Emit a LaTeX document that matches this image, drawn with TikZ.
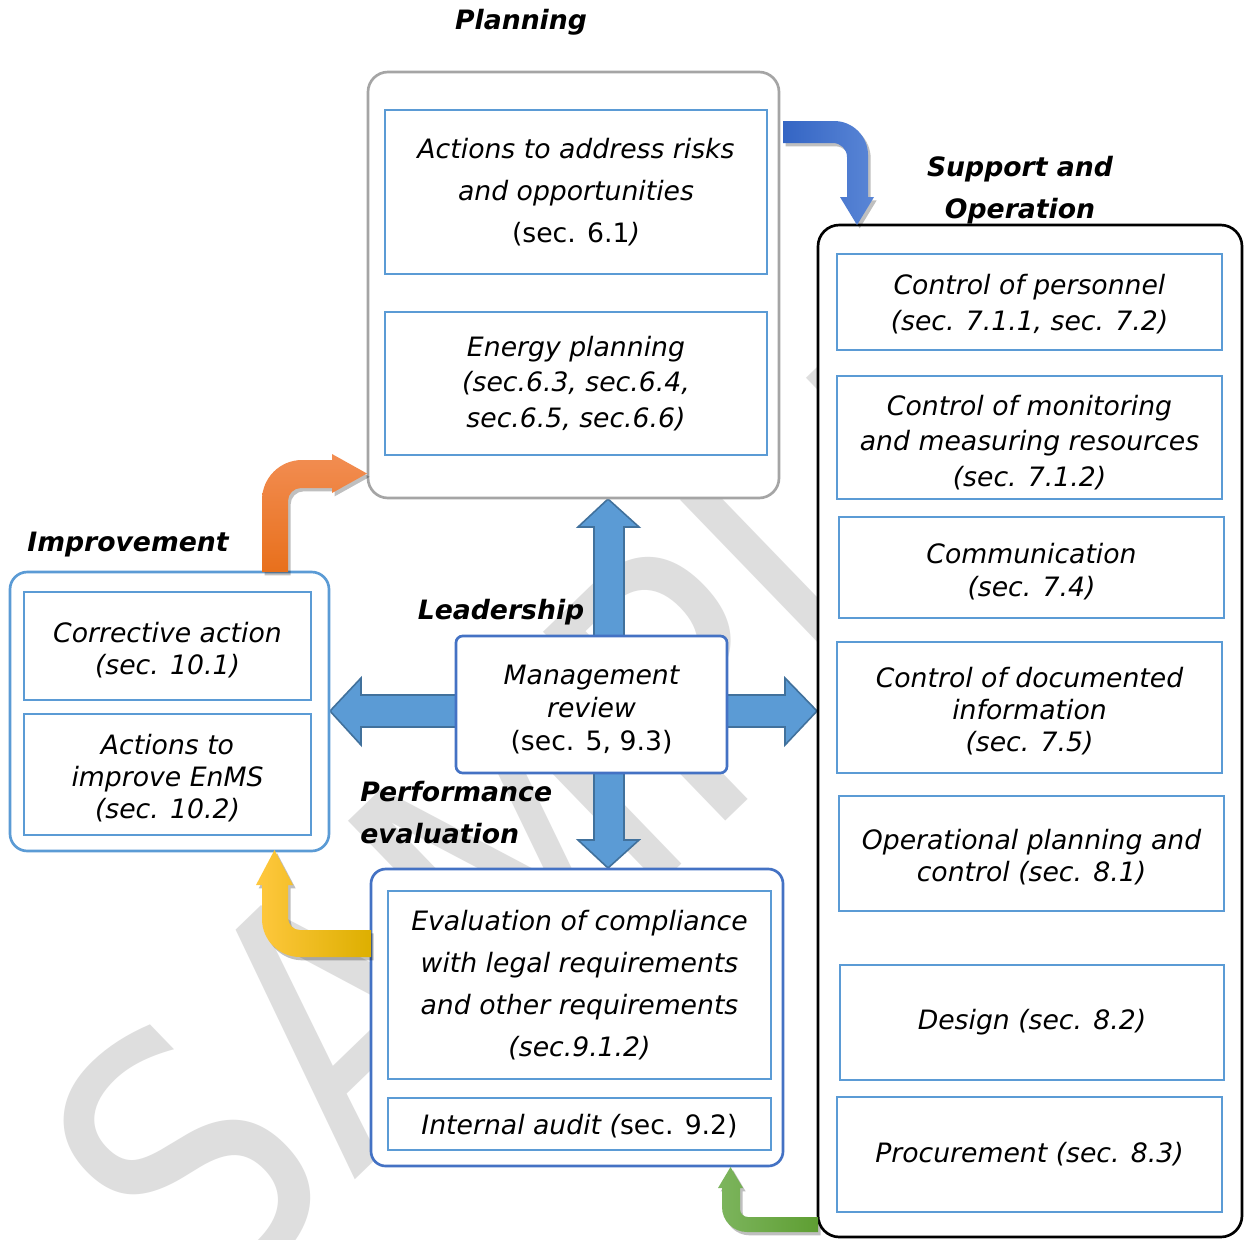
\documentclass[tikz,border=0pt]{standalone}
\usepackage{fontspec}
\setmainfont{DejaVu Sans}
\usetikzlibrary{shadows}
\definecolor{lblue}{HTML}{5B9BD5}
\definecolor{dblue}{HTML}{4472C4}
\definecolor{gbox}{HTML}{A5A5A5}
\definecolor{arrfill}{HTML}{5B9BD5}
\definecolor{arrline}{HTML}{41719C}
\definecolor{wmcol}{HTML}{DEDEDE}
\definecolor{bluA}{HTML}{3465C4}
\definecolor{bluB}{HTML}{5A86D6}
\definecolor{orA}{HTML}{E8701C}
\definecolor{orB}{HTML}{F28D52}
\definecolor{yeA}{HTML}{FFC83F}
\definecolor{yeB}{HTML}{FFC000}
\definecolor{yeC}{HTML}{DDAF00}
\definecolor{grA}{HTML}{7DB55E}
\definecolor{grB}{HTML}{5E9E32}
\newcommand{\vsft}[1]{\rule{0pt}{#1}}
\begin{document}
\begin{tikzpicture}[x=0.75pt,y=-0.75pt,
  sz/.style 2 args={minimum width=#1*0.75pt, minimum height=#2*0.75pt},
  ls/.style={font=\fontsize{20pt}{#1}\selectfont\itshape},
  ibox/.style={draw=lblue, line width=1.9pt, fill=white, inner sep=0pt, align=center, ls=24pt},
  obox/.style={fill=white, line width=2pt, inner sep=0pt},
  hd/.style={font=\fontsize{20pt}{31.5pt}\selectfont\bfseries\itshape, inner sep=0pt},
  wmark/.style={font=\fontsize{270pt}{270pt}\selectfont, text=wmcol, inner sep=0pt},
  xarrow/.style={fill=arrfill, draw=arrline, line width=1.2pt, line join=miter},
  bentshadow/.style={drop shadow={shadow xshift=2pt, shadow yshift=-2.5pt, opacity=0.25, fill=black}}
]
\useasboundingbox (0,0) rectangle (1244,1239);
\clip (0,0) rectangle (1244,1239);
\fill[white] (0,0) rectangle (1244,1239);

% watermark
\begin{scope}[shift={(566.5,793)}, rotate=44, xscale=0.875]
  \node[wmark, transform shape] (wm) at (0,0) {SAMPLE};
\end{scope}

% cross arrows
\path[xarrow] (608,499) -- (639,527) -- (624,527) -- (624,840) -- (639,840) -- (608,868)
  -- (578,840) -- (594,840) -- (594,527) -- (578,527) -- cycle;
\path[xarrow] (330,711) -- (361,678) -- (361,695) -- (785,695) -- (785,678) -- (817,711)
  -- (785,745) -- (785,727) -- (361,727) -- (361,745) -- cycle;

% Planning
\node[hd] (planlbl) at (521,22) {Planning};
\node[obox, draw=gbox, rounded corners=15pt, sz={411}{426}] (plan) at (573.5,285) {};
\node[ibox, sz={382}{164}, ls=31.5pt] (p1) at (576,192)
  {Actions to address risks\\and opportunities\\{\upshape (sec. 6.1})};
\node[ibox, sz={382}{143}, ls=26.5pt] (p2) at (576,383.5)
  {Energy planning\\(sec.6.3, sec.6.4,\\sec.6.5, sec.6.6)};

% Support and Operation
\node[hd, align=center] (suplbl) at (1020,190) {Support and\\Operation};
\node[obox, draw=black, rounded corners=16pt, sz={424}{1012}] (sup) at (1030,731) {};
\node[ibox, sz={385}{96}, ls=27pt] (s1) at (1029.5,302)
  {\vsft{18.2pt}Control of personnel\\(sec. 7.1.1, sec. 7.2)};
\node[ibox, sz={385}{123}, ls=26.6pt] (s2) at (1029.5,437.5)
  {\vsft{22.7pt}Control of monitoring\\and measuring resources\\(sec. 7.1.2)};
\node[ibox, sz={385}{101}, ls=24.5pt] (s3) at (1031.5,567.5)
  {\vsft{21.2pt}Communication\\(sec. 7.4)};
\node[ibox, sz={385}{131}, ls=24pt] (s4) at (1029.5,707.5)
  {\vsft{21.2pt}Control of documented\\information\\(sec. 7.5)};
\node[ibox, sz={385}{115}, ls=24pt] (s5) at (1031.5,853.5)
  {\vsft{21.2pt}Operational planning and\\control (sec. 8.1)};
\node[ibox, sz={384}{115}] (s6) at (1032,1022.5) {Design (sec. 8.2)};
\node[ibox, sz={385}{115}] (s7) at (1029.5,1154.5) {Procurement (sec. 8.3)};

% Improvement
\node[hd] (implbl) at (128,545) {Improvement};
\node[obox, draw=lblue, rounded corners=13pt, sz={319}{279}] (imp) at (169.5,711.5) {};
\node[ibox, sz={287}{108}, ls=24.5pt] (i1) at (167.5,646)
  {\vsft{21.2pt}Corrective action\\(sec. 10.1)};
\node[ibox, sz={287}{121}, ls=24pt] (i2) at (167.5,774.5)
  {\vsft{21.2pt}Actions to\\improve EnMS\\(sec. 10.2)};

% Leadership
\node[hd] (leadlbl) at (501,612) {Leadership};
\node[obox, draw=dblue, rounded corners=5pt, sz={271}{137}, align=center, ls=24.5pt] (mr) at (591.5,704.5)
  {\vsft{22pt}Management\\review\\{\upshape (sec. 5, 9.3)}};

% Performance evaluation
\node[hd, align=left, anchor=west] (perflbl) at (360,813) {Performance\\evaluation};
\node[obox, draw=dblue, rounded corners=11pt, sz={412}{297}] (ev) at (577,1017.5) {};
\node[ibox, sz={383}{188}, ls=31.5pt] (e1) at (579.5,985)
  {Evaluation of compliance\\with legal requirements\\and other requirements\\(sec.9.1.2)};
\node[ibox, sz={383}{52}] (e2) at (579.5,1124)
  {\vsft{18.2pt}Internal audit ({\upshape sec. 9.2)}};

% bent arrows
\shade[bentshadow, left color=bluA, right color=bluB]
  (783,121) -- (834,121) .. controls (852.8,121) and (868,136.2) .. (868,155)
  -- (868,197) -- (874,197) -- (857,225) -- (840,197) -- (847,197) -- (847,157)
  .. controls (847,149.3) and (840.7,143) .. (833,143) -- (783,143) -- cycle;
\shade[bentshadow, bottom color=orA, top color=orB]
  (262,572) -- (262,500) .. controls (262,477.9) and (279.9,460) .. (302,460)
  -- (332,460) -- (332,454) -- (367,473.5) -- (332,493) -- (332,488) -- (301,488)
  .. controls (293.8,488) and (288,493.8) .. (288,501) -- (288,572) -- cycle;
\shade[bentshadow, left color=yeA, middle color=yeB, right color=yeC]
  (371,930) -- (300,930) .. controls (293.4,930) and (288,924.6) .. (288,918)
  -- (288,885) -- (293,885) -- (274.5,850) -- (256,885) -- (262,885) -- (262,919)
  .. controls (262,940) and (279,957) .. (300,957) -- (371,957) -- cycle;
\shade[bentshadow, left color=grA, right color=grB]
  (818,1217) -- (748,1217) .. controls (743.6,1217) and (740,1213.4) .. (740,1209)
  -- (740,1188) -- (743,1188) -- (730.5,1167) -- (718,1188) -- (722,1188) -- (722,1207)
  .. controls (722,1220.8) and (733.2,1232) .. (747,1232) -- (818,1232) -- cycle;
\end{tikzpicture}
\end{document}
